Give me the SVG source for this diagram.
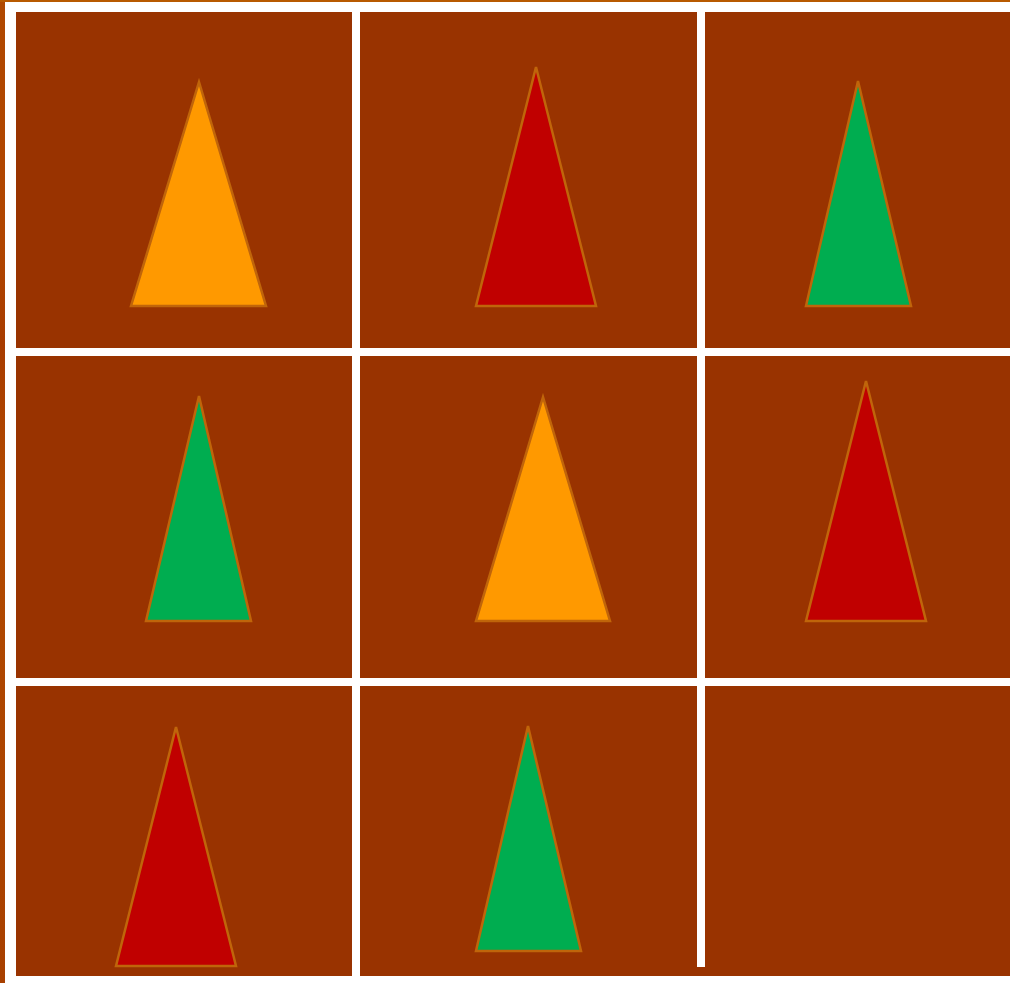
<svg xmlns="http://www.w3.org/2000/svg" width="1010" height="983" viewBox="0 0 1010 983">
  <style>
    .cell { fill: #993300; }
    .gap { fill: #ffffff; }
    .tri { stroke: #c0650a; stroke-width: 2.5; stroke-linejoin: miter; }
    .orange { fill: #ff9900; }
    .red { fill: #c00000; }
    .green { fill: #00ad50; }
  </style>
  <defs>
    <linearGradient id="strip" x1="0" y1="0" x2="0" y2="1">
      <stop offset="0" stop-color="#b04800"/>
      <stop offset="0.25" stop-color="#b04500"/>
      <stop offset="0.35" stop-color="#a83c00"/>
      <stop offset="0.5" stop-color="#b24a00"/>
      <stop offset="1" stop-color="#a84000"/>
    </linearGradient>
  </defs>
  <rect x="0" y="0" width="1010" height="983" fill="#ffffff"/>
  <rect x="0" y="0" width="5" height="983" fill="url(#strip)"/>
  <rect x="0" y="0" width="1010" height="2" fill="#b85a00"/>
  <g id="grid">
    <rect class="cell" x="16" y="12" width="994" height="964"/>
    <rect class="gap" x="352" y="12" width="8" height="964"/>
    <rect class="gap" x="697" y="12" width="8" height="955"/>
    <rect class="gap" x="16" y="348" width="994" height="8"/>
    <rect class="gap" x="16" y="678" width="994" height="8"/>
  </g>
  <g id="cell-1-1"><polygon class="tri orange" points="199,82 266,306 131,306"/></g>
  <g id="cell-1-2"><polygon class="tri red" points="536,67 596,306 476,306"/></g>
  <g id="cell-1-3"><polygon class="tri green" points="858,81 911,306 806,306"/></g>
  <g id="cell-2-1"><polygon class="tri green" points="199,396 251,621 146,621"/></g>
  <g id="cell-2-2"><polygon class="tri orange" points="543,397 610,621 476,621"/></g>
  <g id="cell-2-3"><polygon class="tri red" points="866,381 926,621 806,621"/></g>
  <g id="cell-3-1"><polygon class="tri red" points="176,727 236,966 116,966"/></g>
  <g id="cell-3-2"><polygon class="tri green" points="528,726 581,951 476,951"/></g>
  <g id="connectors"></g>
</svg>
